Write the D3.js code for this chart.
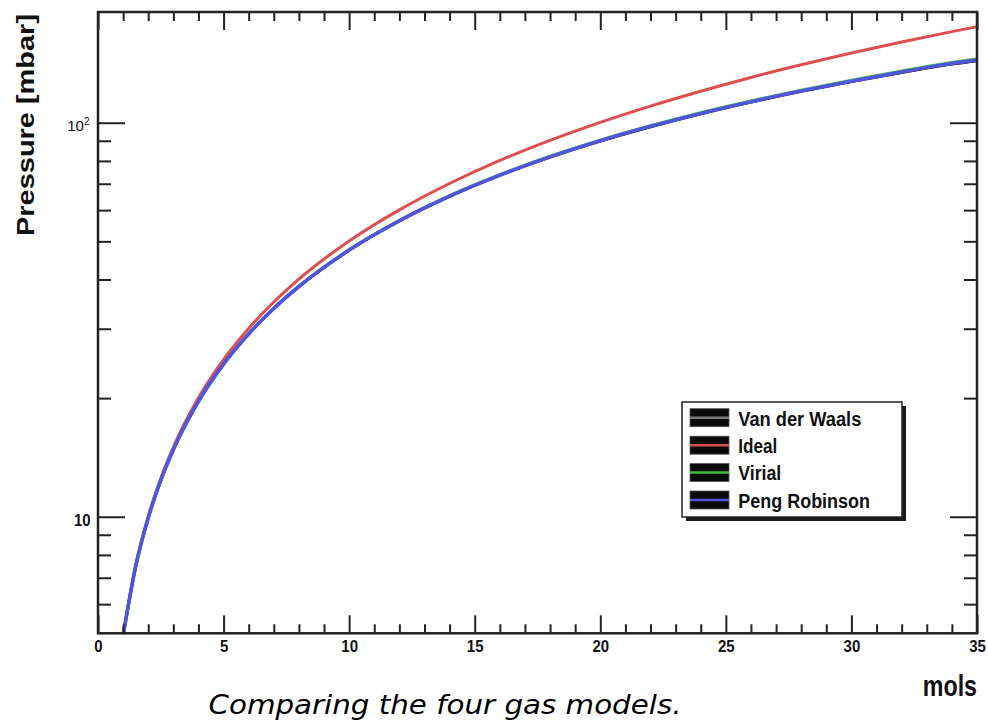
<!DOCTYPE html>
<html>
<head>
<meta charset="utf-8">
<script src="https://cdn.jsdelivr.net/npm/d3@7"></script>
<style>
  html, body { margin: 0; padding: 0; background: #fff; }
  svg { display: block; }
</style>
</head>
<body>
<svg id="chart" width="988" height="721"></svg>
<script>
// Amount of gas (mols) at which each model was evaluated
const mols = [1, 1.5, 2, 2.5, 3, 4, 5, 6, 7, 8, 10, 12, 14, 16, 18, 20, 22, 24, 26, 28, 30, 32, 34, 35];

// Pressure in mbar for each gas model
const vanDerWaals  = [4.99, 7.48, 9.93, 12.38, 14.80, 19.63, 24.39, 29.11, 33.77, 38.38, 47.45, 56.33, 65.0, 73.5, 81.8, 89.85, 97.7, 105.4, 112.85, 120.1, 127.2, 134.1, 140.9, 143.7];
const ideal        = [5.01, 7.52, 10.02, 12.53, 15.03, 20.04, 25.05, 30.06, 35.07, 40.08, 50.1, 60.1, 70.1, 80.2, 90.2, 100.2, 110.2, 120.2, 130.3, 140.3, 150.3, 160.3, 170.3, 175.3];
const virial       = [4.99, 7.48, 9.93, 12.38, 14.80, 19.64, 24.41, 29.14, 33.81, 38.44, 47.6, 56.5, 65.3, 73.8, 82.2, 90.35, 98.3, 106.1, 113.6, 121.0, 128.2, 135.3, 142.2, 145.1];
const pengRobinson = [4.99, 7.48, 9.93, 12.38, 14.80, 19.63, 24.40, 29.12, 33.78, 38.40, 47.5, 56.4, 65.1, 73.6, 81.9, 90.0, 97.9, 105.6, 113.1, 120.4, 127.5, 134.5, 141.3, 144.2];

// Axis ticks
const xMajorTicks = [0, 5, 10, 15, 20, 25, 30, 35];
const xMinorTicks = [1, 2, 3, 4, 6, 7, 8, 9, 11, 12, 13, 14, 16, 17, 18, 19, 21, 22, 23, 24, 26, 27, 28, 29, 31, 32, 33, 34];
const yMajorTicks = [10, 100];
const yMinorTicks = [6, 7, 8, 9, 20, 30, 40, 50, 60, 70, 80, 90];

// Legend entries
const seriesNames = ["Van der Waals", "Ideal", "Virial", "Peng Robinson"];
const seriesColors = ["#000000", "#dd4e4e", "#3fbf3f", "#5056dc"];
const legendLineColors = ["#7a7a7a", "#dd4e4e", "#3fbf3f", "#5056dc"];
const seriesWidths = [3, 3, 3, 3.6];

const seriesValues = [vanDerWaals, ideal, virial, pengRobinson];

const svg = d3.select("#chart");
const frame = { left: 98, right: 977, top: 12, bottom: 633.3 };

const x = d3.scaleLinear().domain([0, 35]).range([frame.left, frame.right]);
const y = d3.scaleLog().domain([5.06, 191]).range([frame.bottom, frame.top]);

const FONT = "'Liberation Sans', Arial, Helvetica, sans-serif";

// Clip region for the curves
svg.append("defs").append("clipPath").attr("id", "plot-clip")
  .append("rect")
  .attr("x", frame.left).attr("y", frame.top)
  .attr("width", frame.right - frame.left).attr("height", frame.bottom - frame.top);

// Curves
const line = d3.line()
  .x((d, i) => x(mols[i]))
  .y(d => y(d))
  .curve(d3.curveMonotoneX);

const curves = svg.append("g").attr("clip-path", "url(#plot-clip)");
seriesValues.forEach((vals, i) => {
  curves.append("path")
    .datum(vals)
    .attr("d", line)
    .attr("fill", "none")
    .attr("stroke", seriesColors[i])
    .attr("stroke-width", seriesWidths[i])
    .attr("stroke-linejoin", "round");
});

// Tick helper: draws ticks only, inward-facing
function ticks(axisFn, scale, values, size, transform) {
  const g = svg.append("g")
    .attr("transform", transform)
    .call(axisFn(scale).tickValues(values).tickSize(-size).tickSizeOuter(0).tickFormat(""));
  g.select(".domain").remove();
  g.selectAll(".tick line").attr("stroke", "#222").attr("stroke-width", 2);
  return g;
}

// Bottom and top axes
const xBottom = ticks(d3.axisBottom, x, xMajorTicks, 18, `translate(0,${frame.bottom})`);
ticks(d3.axisBottom, x, xMinorTicks, 9, `translate(0,${frame.bottom})`);
ticks(d3.axisTop, x, xMajorTicks, 18, `translate(0,${frame.top})`);
ticks(d3.axisTop, x, xMinorTicks, 9, `translate(0,${frame.top})`);

// Left and right axes
const yLeft = ticks(d3.axisLeft, y, yMajorTicks, 27, `translate(${frame.left},0)`);
ticks(d3.axisLeft, y, yMinorTicks, 13, `translate(${frame.left},0)`);
ticks(d3.axisRight, y, yMajorTicks, 27, `translate(${frame.right},0)`);
ticks(d3.axisRight, y, yMinorTicks, 13, `translate(${frame.right},0)`);

// X tick labels
xBottom.selectAll(".tick").append("text")
  .text(d => String(d))
  .attr("y", 19.2)
  .attr("text-anchor", "middle")
  .attr("fill", "#111")
  .style("font-family", FONT)
  .style("font-weight", "bold")
  .style("font-size", "17px")
  .attr("textLength", d => String(d).length * 8.35)
  .attr("lengthAdjust", "spacingAndGlyphs");

// Y tick labels
yLeft.selectAll(".tick").each(function (d) {
  const t = d3.select(this).append("text")
    .attr("fill", "#111")
    .attr("text-anchor", "end")
    .style("font-family", FONT);
  if (d === 10) {
    t.attr("x", -7.3).attr("y", 8.4)
      .style("font-weight", "bold").style("font-size", "17px")
      .attr("textLength", 16.7).attr("lengthAdjust", "spacingAndGlyphs")
      .text("10");
  } else {
    t.attr("x", -8.5).attr("y", 8).style("font-size", "15px");
    t.append("tspan").text("10");
    t.append("tspan").attr("dy", -6.5).style("font-size", "10px").text(String(Math.round(Math.log10(d))));
  }
});

// Frame
svg.append("rect")
  .attr("x", frame.left).attr("y", frame.top)
  .attr("width", frame.right - frame.left).attr("height", frame.bottom - frame.top)
  .attr("fill", "none").attr("stroke", "#222").attr("stroke-width", 2.5);

// Axis titles
svg.append("text")
  .attr("transform", "translate(977,696) scale(0.8,1)")
  .attr("text-anchor", "end")
  .attr("fill", "#111")
  .style("font-family", FONT).style("font-weight", "bold").style("font-size", "29px")
  .text("mols");

svg.append("text")
  .attr("transform", "translate(34,125) rotate(-90)")
  .attr("text-anchor", "middle")
  .attr("fill", "#111")
  .style("font-family", FONT).style("font-weight", "bold").style("font-size", "24px")
  .attr("textLength", 222).attr("lengthAdjust", "spacingAndGlyphs")
  .text("Pressure [mbar]");

// Legend
const legend = { x: 682, y: 402, w: 220, h: 115, rowY: [417.7, 445.2, 472.6, 500], textW: [123, 39, 43, 131.7] };
svg.append("rect")
  .attr("x", legend.x + 4).attr("y", legend.y + 4)
  .attr("width", legend.w).attr("height", legend.h)
  .attr("fill", "#1a1a1a");
svg.append("rect")
  .attr("x", legend.x).attr("y", legend.y)
  .attr("width", legend.w).attr("height", legend.h)
  .attr("fill", "#fff").attr("stroke", "#222").attr("stroke-width", 1.5);

const rows = svg.append("g").selectAll("g").data(seriesNames).join("g")
  .attr("transform", (d, i) => `translate(0,${legend.rowY[i]})`);
rows.append("rect")
  .attr("x", 690).attr("y", -9).attr("width", 39).attr("height", 18)
  .attr("fill", "#0a0a0a").attr("stroke", "#555").attr("stroke-width", 0.8);
rows.append("line")
  .attr("x1", 690).attr("x2", 729).attr("y1", 0).attr("y2", 0)
  .attr("stroke", (d, i) => legendLineColors[i]).attr("stroke-width", 2.5);
rows.append("text")
  .attr("x", 738.3).attr("y", 7.8)
  .attr("fill", "#111")
  .style("font-family", FONT).style("font-weight", "bold").style("font-size", "20px")
  .attr("textLength", (d, i) => legend.textW[i]).attr("lengthAdjust", "spacingAndGlyphs")
  .text(d => d);

// Caption
svg.append("text")
  .attr("x", 445).attr("y", 714)
  .attr("text-anchor", "middle")
  .attr("fill", "#000")
  .style("font-family", "'DejaVu Sans', Verdana, sans-serif")
  .style("font-style", "italic")
  .style("font-size", "26px")
  .attr("textLength", 473).attr("lengthAdjust", "spacingAndGlyphs")
  .text("Comparing the four gas models.");
</script>
</body>
</html>
